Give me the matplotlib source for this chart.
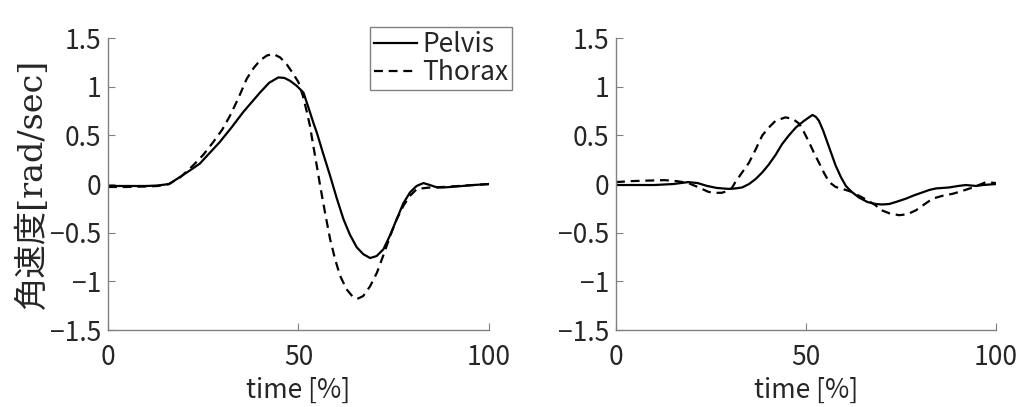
import matplotlib
matplotlib.use("Agg")
import matplotlib.pyplot as plt

plt.rcParams['font.family'] = ['Noto Sans CJK JP', 'DejaVu Sans']

# left panel
x_l_pelvis = [0, 5, 10, 13, 16, 18.8, 21.5, 24.1, 26.7, 29.3, 32.4, 35.5, 37.7, 39.9, 42.3,
              44.7, 46.3, 47.8, 49.5, 51.3, 52.5, 53.9, 54.8, 56.5, 58.3, 60, 61.8, 63.5,
              65.3, 67, 68.8, 70.5, 72.3, 74, 75.8, 77.5, 79.3, 81, 82.8, 84.5, 86.4, 88,
              90, 93, 96, 100]
pelvis_l = [-0.02, -0.02, -0.02, -0.015, 0.0, 0.07, 0.14, 0.21, 0.32, 0.43, 0.58, 0.74, 0.84,
            0.94, 1.04, 1.095, 1.09, 1.06, 1.01, 0.94, 0.8, 0.63, 0.53, 0.31, 0.085, -0.14,
            -0.36, -0.52, -0.65, -0.72, -0.76, -0.74, -0.67, -0.53, -0.36, -0.2, -0.085,
            -0.02, 0.01, -0.01, -0.035, -0.035, -0.03, -0.02, -0.01, 0.0]
x_l_thorax = [0, 5, 10, 13, 16, 19, 22.3, 25, 27.6, 30, 32, 34.2, 36.4, 38.2, 39.9, 41.7,
              43.4, 45.2, 46.9, 48.5, 50, 51.2, 52.2, 53, 53.9, 54.8, 55.7, 57, 58.3, 59.6,
              60.9, 62.6, 64.4, 65.7, 67, 68.8, 70.6, 72.3, 74.1, 75.8, 77.6, 79.3, 81.1,
              84.6, 88, 92, 96, 100]
thorax_l = [-0.03, -0.03, -0.025, -0.02, 0.0, 0.07, 0.19, 0.3, 0.43, 0.56, 0.70, 0.88, 1.08,
            1.19, 1.27, 1.32, 1.336, 1.3, 1.23, 1.14, 1.045, 0.9, 0.74, 0.6, 0.39, 0.19,
            -0.02, -0.3, -0.565, -0.77, -0.94, -1.08, -1.165, -1.175, -1.15, -1.05, -0.91,
            -0.73, -0.53, -0.36, -0.22, -0.12, -0.05, -0.035, -0.03, -0.02, -0.01, 0.0]

# right panel
x_r_pelvis = [0, 5, 10, 15, 19, 21.5, 24, 26.5, 29.7, 31.5, 33.2, 35, 36.7, 38.5, 40.2, 42,
              43.7, 45.5, 47.3, 49.5, 51.7, 52.6, 53.4, 54.5, 55.6, 56.7, 57.8, 59.2, 60.5,
              62, 64, 66.2, 68.4, 70, 71.9, 74, 76.3, 78.5, 80.7, 82.5, 84.2, 87.7, 90,
              92.1, 94.8, 96.5, 100]
pelvis_r = [-0.01, -0.01, -0.01, 0.0, 0.02, 0.01, -0.02, -0.04, -0.05, -0.045, -0.035, 0.0,
            0.05, 0.12, 0.2, 0.3, 0.41, 0.5, 0.58, 0.65, 0.71, 0.69, 0.65, 0.55, 0.43, 0.31,
            0.19, 0.07, -0.02, -0.08, -0.14, -0.185, -0.205, -0.21, -0.205, -0.18, -0.15,
            -0.115, -0.085, -0.06, -0.045, -0.035, -0.02, -0.01, -0.02, -0.01, 0.0]
x_r_thorax = [0, 4, 8, 12.8, 16, 19, 21.5, 24.3, 26, 27.8, 29.5, 30.5, 31.4, 33.2, 35, 36.8,
              38.5, 40.2, 42, 44.6, 46.5, 48.2, 49.5, 50.8, 52.1, 53.4, 54.8, 56.1, 57.8,
              59.6, 62, 64.9, 66.7, 68.4, 69.3, 71.9, 74.5, 76.7, 78.9, 81.1, 83.3, 86,
              88.6, 91.2, 93.9, 97.4, 100]
thorax_r = [0.02, 0.03, 0.035, 0.04, 0.03, 0.01, -0.03, -0.08, -0.09, -0.09, -0.07, -0.04,
            0.02, 0.12, 0.22, 0.36, 0.5, 0.58, 0.65, 0.685, 0.67, 0.62, 0.53, 0.43, 0.32,
            0.22, 0.11, 0.02, -0.03, -0.05, -0.08, -0.14, -0.18, -0.22, -0.26, -0.3, -0.32,
            -0.31, -0.27, -0.21, -0.15, -0.12, -0.1, -0.07, -0.035, 0.02, 0.01]

xticks = [0, 50, 100]
yticks = [-1.5, -1, -0.5, 0, 0.5, 1, 1.5]
ytick_labels = ['−1.5', '−1', '−0.5', '0', '0.5', '1', '1.5']
labels = ['Pelvis', 'Thorax']

fig = plt.figure(figsize=(10.25, 4.07), dpi=100)
ax1 = fig.add_axes([0.1054, 0.189, 0.3716, 0.7176])
ax2 = fig.add_axes([0.601, 0.189, 0.3707, 0.7176])

dash = (0, (4, 2.6))
for ax, xp, yp, xt, yt in [(ax1, x_l_pelvis, pelvis_l, x_l_thorax, thorax_l),
                           (ax2, x_r_pelvis, pelvis_r, x_r_thorax, thorax_r)]:
    ax.plot(xp, yp, color='black', lw=1.6, label=labels[0])
    ax.plot(xt, yt, color='black', lw=1.6, ls=dash, label=labels[1])
    ax.set_xlim(0, 100)
    ax.set_ylim(-1.5, 1.5)
    ax.set_xticks(xticks)
    ax.set_yticks(yticks)
    ax.set_yticklabels(ytick_labels)
    for s in ['top', 'right']:
        ax.spines[s].set_visible(False)
    for s in ['left', 'bottom']:
        ax.spines[s].set_color('#808080')
        ax.spines[s].set_linewidth(1.0)
    ax.tick_params(direction='in', length=5, color='#808080', labelsize=19,
                   labelcolor='#262626')
    ax.tick_params(axis='y', pad=5)
    ax.tick_params(axis='x', pad=10)
    ax.set_xlabel('time [%]', fontsize=19, color='#262626', labelpad=4)

ax1.set_ylabel('角速度[rad/sec]', fontsize=24, color='#262626',
               family=['DejaVu Serif', 'Noto Sans CJK JP'], labelpad=1)

leg = ax1.legend(loc='upper right', bbox_to_anchor=(0.4995, 0.934),
                 bbox_transform=fig.transFigure, borderaxespad=0, fontsize=19,
                 frameon=True, fancybox=False, framealpha=1, edgecolor='#808080',
                 handlelength=1.6, handletextpad=0.2, labelspacing=0.05, borderpad=0.15)
leg.get_frame().set_linewidth(1.0)
for t in leg.get_texts():
    t.set_color('#262626')

fig.savefig('out.png', dpi=100)
